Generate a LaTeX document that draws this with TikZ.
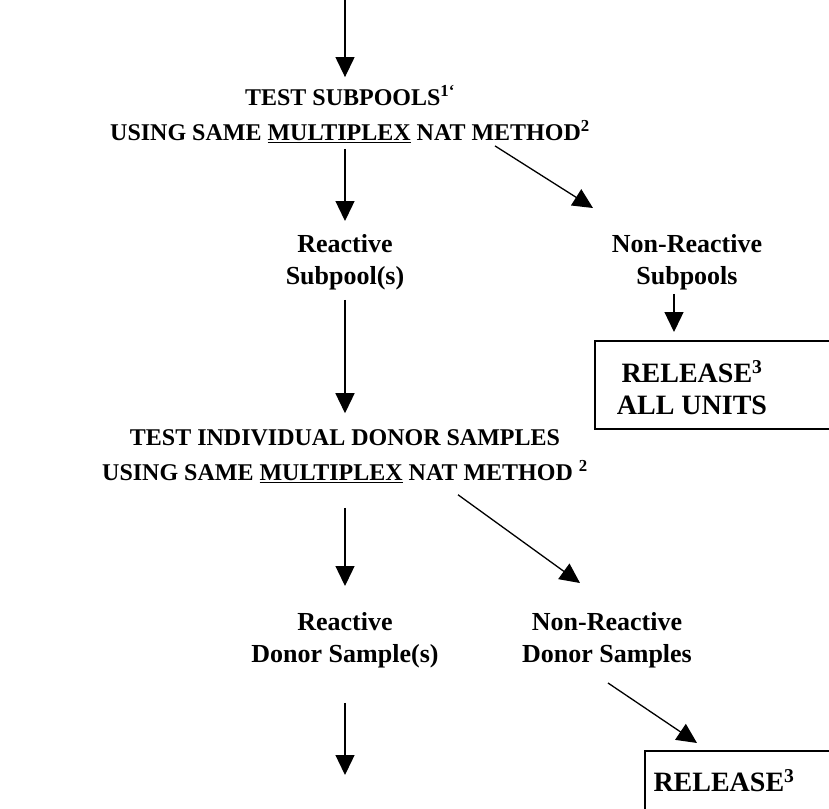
\documentclass[tikz,border=0pt]{standalone}
\usepackage{fontspec}
\setmainfont{Liberation Serif}
\usetikzlibrary{positioning,arrows.meta}

\begin{document}
\begin{tikzpicture}[x=1pt,y=-1pt,>={Triangle[length=20pt,width=19pt]},
  arr/.style={->,line width=1.3pt},
  head/.style={font=\bfseries\fontsize{24}{35}\selectfont,align=center,inner sep=0pt},
  lab/.style={font=\bfseries\fontsize{26}{32}\selectfont,align=center,inner sep=0pt},
  reltext/.style={font=\bfseries\fontsize{28}{32}\selectfont,align=center,inner sep=0pt},
  relbox/.style={draw,line width=1.5pt,anchor=north west,inner sep=0pt}]
\useasboundingbox (0,0) rectangle (829,808);
\coordinate (top) at (345,0);
\node[head] (h1) at (350,114) {TEST SUBPOOLS\textsuperscript{1`}\\USING SAME \underline{MULTIPLEX} NAT METHOD\textsuperscript{2}};
\node[lab] (rsp) at (345,262) {Reactive\\Subpool(s)};
\node[lab] (nrs) at (687,262) {Non-Reactive\\Subpools};
\node[relbox,minimum width=260pt,minimum height=88pt] (box1) at (594,340) {};
\node[reltext] (rel1) at (692,388) {RELEASE\textsuperscript{3}\\ALL UNITS};
\node[head] (h2) at (345,456) {TEST INDIVIDUAL DONOR SAMPLES\\USING SAME \underline{MULTIPLEX} NAT METHOD \textsuperscript{2}};
\node[lab] (rds) at (345,640) {Reactive\\Donor Sample(s)};
\node[lab] (nrd) at (607,640) {Non-Reactive\\Donor Samples};
\node[relbox,minimum width=220pt,minimum height=100pt] (box2) at (644,750) {};
\node[reltext] (rel2) at (724,781) {RELEASE\textsuperscript{3}};
\coordinate (bot) at (345,775);
% first pooling step
\draw[arr] (top) -- ([yshift=8pt]h1.north -| top);
\draw[arr] ([yshift=-6pt]h1.south -| rsp.north) -- ([yshift=13pt]rsp.north);
\draw[arr] ([xshift=145pt,yshift=-3pt]h1.south) -- ([xshift=-94pt,yshift=26pt]nrs.north);
\draw[arr,shorten >=8pt] ([xshift=-13pt,yshift=-4pt]nrs.south) -- ([xshift=-13pt]nrs.south |- box1.north);
% individual samples
\draw[arr] ([yshift=-10pt]rsp.south) -- ([yshift=16pt]h2.north -| rsp.south);
\draw[arr] ([yshift=-25pt]h2.south) -- ([yshift=26pt]rds.north);
\draw[arr] ([xshift=113pt,yshift=-12pt]h2.south) -- ([xshift=-27pt,yshift=29pt]nrd.north);
\draw[arr] ([xshift=1pt,yshift=-15pt]nrd.south) -- ([xshift=53pt,yshift=7pt]box2.north west);
\draw[arr] ([yshift=-35pt]rds.south -| bot) -- (bot);
\end{tikzpicture}
\end{document}
